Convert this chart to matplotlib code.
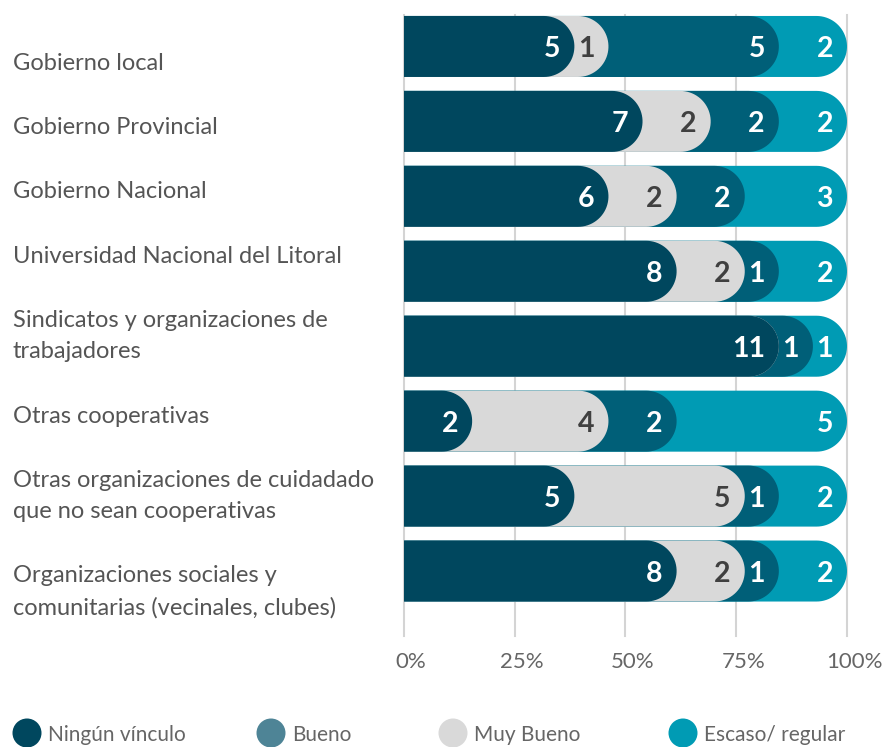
import numpy as np
import matplotlib
matplotlib.use("Agg")
import matplotlib.pyplot as plt
from matplotlib.patches import Polygon, Ellipse
from matplotlib.transforms import offset_copy

plt.rcParams['font.family'] = ['Lato', 'DejaVu Sans']

# categories, top to bottom
categories = [
    "Gobierno local",
    "Gobierno Provincial",
    "Gobierno Nacional",
    "Universidad Nacional del Litoral",
    "Sindicatos y organizaciones de\ntrabajadores",
    "Otras cooperativas",
    "Otras organizaciones de cuidadado\nque no sean cooperativas",
    "Organizaciones sociales y\ncomunitarias (vecinales, clubes)",
]

# counts per category, in stacking order
ningun = [5, 7, 6, 8, 11, 2, 5, 8]
muy_bueno = [1, 2, 2, 2, 0, 4, 5, 2]
bueno = [5, 2, 2, 1, 1, 2, 1, 1]
escaso = [2, 2, 3, 2, 1, 5, 2, 2]

series_names = ["Ningún vínculo", "Muy Bueno", "Bueno", "Escaso/ regular"]
bar_colors = ["#00475e", "#d9d9d9", "#005f78", "#009bb4"]
label_colors = ["white", "#404040", "white", "white"]

legend_names = ["Ningún vínculo", "Bueno", "Muy Bueno", "Escaso/ regular"]
legend_colors = ["#00475e", "#4e8496", "#d9d9d9", "#009bb4"]

ticks = [0, 0.25, 0.5, 0.75, 1.0]
tick_labels = ["0%", "25%", "50%", "75%", "100%"]

W, H = 887, 747
fig = plt.figure(figsize=(W / 100, H / 100), dpi=100)
ax_left, ax_right = 404, 847
ax_top, ax_bottom = 9, 608.5
ax = fig.add_axes([ax_left / W, 1 - ax_bottom / H, (ax_right - ax_left) / W, (ax_bottom - ax_top) / H])
n = len(categories)
ax.set_xlim(0, 1)
ax.set_ylim(n - 0.5, -0.5)
ax.axis("off")

px_x = ax_right - ax_left
px_y = (ax_bottom - ax_top) / n
bar_h = 61 / px_y
rx = (61 / 2) / px_x
ry = bar_h / 2

# grid lines
for t in ticks:
    ax.plot([t, t], [-0.42, n - 0.5 + 0.37], color="#d4d4d4", lw=1.5, zorder=0, clip_on=False)

data = np.array([ningun, muy_bueno, bueno, escaso], dtype=float)
totals = data.sum(axis=0)
shares = data / totals
cums = np.cumsum(shares, axis=0)

theta = np.linspace(-np.pi / 2, np.pi / 2, 40)


def rounded_bar(y, end, color, z):
    pts = [(0, y - ry)]
    cx = end - rx
    for t in theta:
        pts.append((cx + rx * np.cos(t), y + ry * np.sin(t)))
    pts.append((0, y + ry))
    ax.add_patch(Polygon(pts, closed=True, facecolor=color, edgecolor="none", zorder=z))


pad = offset_copy(ax.transData, fig=fig, x=-14, y=0, units="dots")
for i in range(n):
    for k in range(3, -1, -1):
        rounded_bar(i, cums[k, i], bar_colors[k], 2 + (3 - k))
    for k in range(4):
        if data[k, i] == 0:
            continue
        ax.text(cums[k, i], i, str(int(data[k, i])), transform=pad, ha="right",
                va="center_baseline", fontsize=20.5, fontweight="bold",
                color=label_colors[k], zorder=10)

# category labels: stacked like a text column (line height 32px, gap 32px)
line_px, gap_px = 32, 32
y_cursor = 48
for c in categories:
    nlines = c.count("\n") + 1
    block = nlines * line_px
    yc = y_cursor + block / 2
    fig.text(13 / W, 1 - yc / H, c, ha="left", va="center", fontsize=17,
             color="#555555", linespacing=1.62)
    y_cursor += block + gap_px

# x tick labels
for t, lab in zip(ticks, tick_labels):
    fig.text((ax_left + t * px_x + 7) / W, 1 - 662 / H, lab, ha="center", va="center",
             fontsize=16, color="#666666")

# legend
leg_x = [27, 271, 453, 683]
for x, name, col in zip(leg_x, legend_names, legend_colors):
    fig.patches.append(Ellipse((x / W, 1 - 733 / H), 29 / W, 29 / H, transform=fig.transFigure,
                               facecolor=col, edgecolor="none"))
    fig.text((x + 21) / W, 1 - 741 / H, name, ha="left", va="baseline", fontsize=15,
             color="#666666")

fig.savefig("out.png", dpi=100)
